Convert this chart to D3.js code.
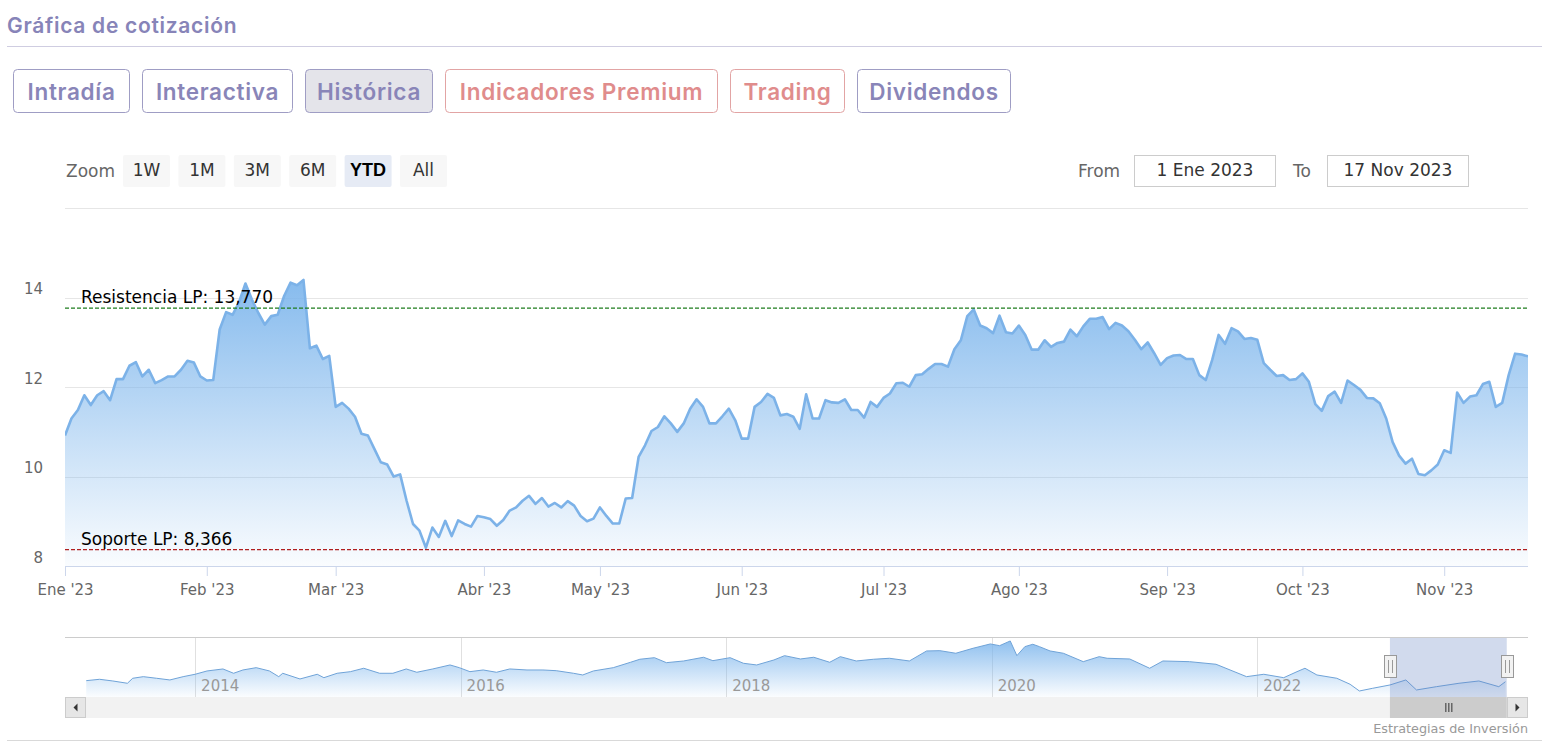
<!DOCTYPE html>
<html><head><meta charset="utf-8">
<script src="https://cdn.jsdelivr.net/npm/d3@7"></script>
<style>
body{margin:0;background:#fff;}
svg{display:block;}
</style></head><body>
<svg id="c" width="1546" height="755"></svg>
<script>
// ---------- DATA ----------
const monthLabels = ["Ene '23","Feb '23","Mar '23","Abr '23","May '23","Jun '23","Jul '23","Ago '23","Sep '23","Oct '23","Nov '23"];
const monthStartIndex = [0,22,42,65,83,105,127,148,171,192,214];
const prices = [
 10.92,11.30,11.49,11.82,11.60,11.82,11.91,11.71,12.18,12.18,
 12.48,12.56,12.24,12.39,12.09,12.16,12.24,12.24,12.39,12.59,
 12.55,12.24,12.15,12.16,13.29,13.68,13.62,13.90,14.32,13.96,
 13.66,13.40,13.59,13.62,14.04,14.34,14.28,14.40,12.87,12.93,
 12.63,12.70,11.56,11.65,11.52,11.34,10.96,10.92,10.62,10.32,
 10.27,10.00,10.05,9.46,8.94,8.79,8.41,8.86,8.65,9.01,
 8.67,9.02,8.94,8.88,9.12,9.09,9.05,8.90,9.03,9.24,
 9.31,9.46,9.57,9.39,9.52,9.33,9.41,9.31,9.45,9.35,
 9.12,9.00,9.06,9.31,9.12,8.95,8.95,9.51,9.52,10.44,
 10.70,11.02,11.11,11.35,11.19,11.00,11.19,11.52,11.73,11.56,
 11.19,11.19,11.35,11.52,11.26,10.85,10.85,11.56,11.67,11.85,
 11.76,11.37,11.40,11.34,11.07,11.84,11.30,11.30,11.71,11.66,
 11.65,11.73,11.49,11.49,11.32,11.67,11.56,11.76,11.86,12.09,
 12.10,12.01,12.27,12.29,12.41,12.52,12.52,12.46,12.85,13.05,
 13.59,13.74,13.38,13.32,13.21,13.60,13.23,13.20,13.38,13.17,
 12.84,12.84,13.05,12.90,12.99,13.02,13.29,13.14,13.36,13.53,
 13.53,13.57,13.30,13.44,13.38,13.25,13.06,12.85,13.00,12.76,
 12.50,12.65,12.71,12.72,12.63,12.63,12.27,12.16,12.61,13.17,
 12.97,13.32,13.25,13.08,13.10,13.06,12.54,12.39,12.25,12.27,
 12.16,12.18,12.31,12.12,11.62,11.47,11.80,11.90,11.65,12.15,
 12.05,11.94,11.76,11.75,11.64,11.30,10.77,10.47,10.29,10.40,
 10.06,10.03,10.14,10.27,10.59,10.53,11.88,11.65,11.79,11.82,
 12.07,12.12,11.56,11.65,12.27,12.75,12.73,12.69
];
const yTicks = [8,10,12,14,16];
const resistanceValue = 13.770;
const supportValue = 8.366;
const resistanceLabel = "Resistencia LP: 13,770";
const supportLabel = "Soporte LP: 8,366";

const navYears = [2013.18,2013.28,2013.38,2013.49,2013.53,2013.61,2013.71,2013.81,2013.91,2014.00,
 2014.09,2014.21,2014.29,2014.36,2014.46,2014.56,2014.63,2014.66,2014.79,2014.92,
 2014.97,2015.07,2015.17,2015.27,2015.39,2015.49,2015.59,2015.67,2015.79,2015.92,
 2015.99,2016.07,2016.17,2016.27,2016.37,2016.50,2016.62,2016.72,2016.85,2016.92,
 2017.00,2017.15,2017.28,2017.35,2017.46,2017.55,2017.68,2017.83,2017.90,2018.03,
 2018.13,2018.23,2018.36,2018.44,2018.56,2018.66,2018.78,2018.86,2018.98,2019.11,
 2019.23,2019.38,2019.51,2019.61,2019.73,2019.86,2019.99,2020.06,2020.14,2020.19,
 2020.25,2020.31,2020.36,2020.44,2020.54,2020.69,2020.81,2020.87,2021.04,2021.19,
 2021.29,2021.49,2021.69,2021.92,2022.05,2022.20,2022.30,2022.36,2022.45,2022.60,
 2022.70,2022.77,2022.87,2023.00,2023.12,2023.20,2023.35,2023.52,2023.67,2023.82,2023.87];
const navValues = [13.57,14.34,13.40,12.12,14.90,15.79,14.90,13.96,15.79,17.12,
 18.96,20.07,17.68,19.51,20.79,18.96,15.79,17.68,14.51,17.12,
 15.23,17.68,18.57,20.46,17.68,17.68,20.07,18.23,20.07,22.29,
 20.79,18.57,19.51,18.23,20.07,19.51,19.51,19.12,17.68,16.73,
 18.96,20.79,23.79,25.46,26.34,23.57,24.51,26.57,24.68,26.34,
 23.23,22.29,25.07,27.46,25.62,26.57,23.79,26.90,24.51,25.46,
 26.01,24.51,30.07,30.23,28.79,31.57,33.96,33.01,35.62,27.46,
 32.46,33.79,32.46,30.07,28.79,24.12,26.90,26.01,25.62,20.46,
 24.51,24.12,22.68,15.79,17.12,15.23,18.57,20.46,16.73,14.90,
 11.57,7.84,9.34,11.18,13.96,8.40,10.23,12.12,13.40,10.23,13.00];
const navYearTicks = [2014,2016,2018,2020,2022];
const navRangeFrom = 2023.00, navRangeTo = 2023.88;

const tabLabels = ["Intradía","Interactiva","Histórica","Indicadores Premium","Trading","Dividendos"];
const tabKinds  = ["plain","plain","active","premium","premium","plain"];
const zoomLabels = ["1W","1M","3M","6M","YTD","All"];
const zoomActive = "YTD";
const fromDate = "1 Ene 2023", toDate = "17 Nov 2023";
const titleText = "Gráfica de cotización";
const creditText = "Estrategias de Inversión";

// ---------- LAYOUT ----------
const tabBoxWidths = [116,150,127,272,114,153];

// ---------- DRAW ----------
const svg = d3.select("#c");
const uiFont = "DejaVu Sans, Verdana, sans-serif";
const headFont = "Inter, 'Open Sans', sans-serif";

const defs = svg.append("defs");
const g1 = defs.append("linearGradient").attr("id","gMain").attr("gradientUnits","userSpaceOnUse")
  .attr("x1",0).attr("x2",0).attr("y1",270).attr("y2",566);
g1.append("stop").attr("offset",0).attr("stop-color","#7cb5ec").attr("stop-opacity",0.95);
g1.append("stop").attr("offset",1).attr("stop-color","#7cb5ec").attr("stop-opacity",0.04);
const g2 = defs.append("linearGradient").attr("id","gNav").attr("gradientUnits","userSpaceOnUse")
  .attr("x1",0).attr("x2",0).attr("y1",641).attr("y2",697);
g2.append("stop").attr("offset",0).attr("stop-color","#7cb5ec").attr("stop-opacity",0.85);
g2.append("stop").attr("offset",1).attr("stop-color","#7cb5ec").attr("stop-opacity",0.03);
defs.append("clipPath").attr("id","clipMain").append("rect").attr("x",65).attr("y",200).attr("width",1463).attr("height",366);

// Header
svg.append("text").attr("x",7).attr("y",33).attr("font-family",headFont).attr("font-weight",600)
  .attr("font-size",21).attr("letter-spacing",0.7).attr("fill","#8784b8").text(titleText);
svg.append("line").attr("x1",7).attr("x2",1542).attr("y1",46.5).attr("y2",46.5).attr("stroke","#cfcde1");

// Tabs
let tx = 13;
tabLabels.forEach((lab,i)=>{
  const kind = tabKinds[i];
  const bw = tabBoxWidths[i];
  svg.append("rect").attr("x",tx+0.5).attr("y",69.5).attr("width",bw).attr("height",43).attr("rx",4)
    .attr("fill", kind==="active" ? "#e4e4ea" : "#fff")
    .attr("stroke", kind==="premium" ? "#e2a4a4" : "#9f9dc4");
  svg.append("text").attr("x",tx+0.5+bw/2).attr("y",100).attr("text-anchor","middle")
    .attr("font-family",headFont).attr("font-weight",600)
    .attr("font-size",22.5).attr("letter-spacing",0.7)
    .attr("fill", kind==="premium" ? "#e08c8c" : "#8985b8").text(lab);
  tx += bw + 13;
});

// Zoom row
svg.append("text").attr("x",66).attr("y",177).attr("font-family",uiFont).attr("font-size",17)
  .attr("fill","#666").text("Zoom");
zoomLabels.forEach((lab,i)=>{
  const bx = 123 + i*55.4;
  const act = lab===zoomActive;
  svg.append("rect").attr("x",bx).attr("y",155).attr("width",47).attr("height",32).attr("rx",2)
    .attr("fill", act ? "#e6ebf5" : "#f7f7f7");
  svg.append("text").attr("x",bx+23.5).attr("y",176).attr("text-anchor","middle")
    .attr("font-family", act ? "Arial, 'Liberation Sans', sans-serif" : uiFont)
    .attr("font-size", act ? 18 : 17).attr("font-weight", act ? "bold" : "normal")
    .attr("fill", act ? "#000" : "#333").text(lab);
});
svg.append("text").attr("x",1078).attr("y",177).attr("font-family",uiFont).attr("font-size",17)
  .attr("fill","#666").text("From");
svg.append("text").attr("x",1293).attr("y",177).attr("font-family",uiFont).attr("font-size",17)
  .attr("fill","#666").text("To");
[[1134,fromDate],[1327,toDate]].forEach(([bx,lab])=>{
  svg.append("rect").attr("x",bx+0.5).attr("y",155.5).attr("width",141).attr("height",31)
    .attr("fill","#fff").attr("stroke","#cccccc");
  svg.append("text").attr("x",bx+71).attr("y",176).attr("text-anchor","middle")
    .attr("font-family",uiFont).attr("font-size",17).attr("fill","#333").text(lab);
});

// Main chart scales
const x = d3.scaleLinear().domain([0, prices.length-1]).range([65,1528]);
const y = d3.scaleLinear().domain([8,16]).range([566,208.4]);

// Gridlines + y labels
yTicks.forEach(t=>{
  if (t>8) svg.append("line").attr("x1",65).attr("x2",1528).attr("y1",Math.round(y(t))+0.5).attr("y2",Math.round(y(t))+0.5)
    .attr("stroke","#e6e6e6");
  if (t<16) svg.append("text").attr("x",43).attr("y",y(t)-3.4).attr("text-anchor","end")
    .attr("font-family",uiFont).attr("font-size",15).attr("fill","#666").text(t);
});

// Area + line
const area = d3.area().x((d,i)=>x(i)).y0(y(8)).y1(d=>y(d));
const line = d3.line().x((d,i)=>x(i)).y(d=>y(d));
const plot = svg.append("g").attr("clip-path","url(#clipMain)");
plot.append("path").datum(prices).attr("d",area).attr("fill","url(#gMain)");
plot.append("path").datum(prices).attr("d",line).attr("fill","none").attr("stroke","#7cb2e8")
  .attr("stroke-width",2.6).attr("stroke-linejoin","round");

// X axis
const xAxis = d3.axisBottom(x).tickValues(monthStartIndex)
  .tickFormat(d=>monthLabels[monthStartIndex.indexOf(d)]).tickSize(10).tickPadding(8);
const ax = svg.append("g").attr("transform","translate(0,566)").call(xAxis);
ax.select(".domain").attr("stroke","#ccd6eb").attr("d","M65,0.5H1528");
ax.selectAll(".tick line").attr("stroke","#ccd6eb");
ax.selectAll(".tick text").attr("font-family",uiFont).attr("font-size",15).attr("fill","#666");

// Plot lines (support / resistance)
[[resistanceValue,"#1e7d1e",resistanceLabel],[supportValue,"#b01e1e",supportLabel]].forEach(([v,c,lab])=>{
  svg.append("line").attr("x1",65).attr("x2",1528).attr("y1",y(v)).attr("y2",y(v))
    .attr("stroke",c).attr("stroke-width",1.2).attr("stroke-dasharray","4,2");
  svg.append("text").attr("x",81).attr("y",y(v)-5).attr("font-family",uiFont).attr("font-size",17)
    .attr("fill","#000").text(lab);
});

// Navigator
const nx = d3.scaleLinear().domain([2013.02,2024.04]).range([65,1528]);
const ny = d3.scaleLinear().domain([4.5,35.6]).range([697,641]);
navYearTicks.forEach(t=>{
  svg.append("line").attr("x1",Math.round(nx(t))+0.5).attr("x2",Math.round(nx(t))+0.5).attr("y1",637).attr("y2",697)
    .attr("stroke","#e0e0e0");
});
const navData = navYears.map((yr,i)=>[yr,navValues[i]]);
svg.append("path").datum(navData).attr("d",d3.area().x(d=>nx(d[0])).y0(697).y1(d=>ny(d[1])))
  .attr("fill","url(#gNav)");
svg.append("path").datum(navData).attr("d",d3.line().x(d=>nx(d[0])).y(d=>ny(d[1])))
  .attr("fill","none").attr("stroke","#6fa3d8").attr("stroke-width",1);
navYearTicks.forEach(t=>{
  svg.append("text").attr("x",nx(t)+6).attr("y",691).attr("font-family",uiFont).attr("font-size",15)
    .attr("fill","#999").text(t);
});
svg.append("line").attr("x1",65).attr("x2",1528).attr("y1",637.5).attr("y2",637.5).attr("stroke","#cccccc");
const m0 = nx(navRangeFrom), m1 = nx(navRangeTo);
svg.append("rect").attr("x",m0).attr("y",638).attr("width",m1-m0).attr("height",59)
  .attr("fill","rgba(102,133,194,0.3)");
[m0,m1].forEach(hx=>{
  svg.append("rect").attr("x",Math.round(hx)-5.5).attr("y",655.5).attr("width",12).attr("height",22)
    .attr("fill","#f2f2f2").attr("stroke","#999");
  [-1.5,2.5].forEach(o=>svg.append("line").attr("x1",Math.round(hx)+o).attr("x2",Math.round(hx)+o)
    .attr("y1",660).attr("y2",673).attr("stroke","#999"));
});

// Scrollbar
svg.append("rect").attr("x",65).attr("y",697).attr("width",1463).attr("height",21).attr("fill","#f2f2f2");
svg.append("rect").attr("x",m0).attr("y",697).attr("width",m1-m0).attr("height",21).attr("fill","#cccccc");
[-3,0,3].forEach(o=>svg.append("line").attr("x1",(m0+m1)/2+o+0.5).attr("x2",(m0+m1)/2+o+0.5)
  .attr("y1",703).attr("y2",712).attr("stroke","#333"));
[[65,-1],[1507,1]].forEach(([bx,dir])=>{
  svg.append("rect").attr("x",bx+0.5).attr("y",697.5).attr("width",20).attr("height",20)
    .attr("fill","#e6e6e6").attr("stroke","#cccccc");
  const cx = bx+10.5, cy = 707.5;
  svg.append("path").attr("d", dir<0 ? `M${cx+2},${cy-4}L${cx-2},${cy}L${cx+2},${cy+4}Z`
                                     : `M${cx-2},${cy-4}L${cx+2},${cy}L${cx-2},${cy+4}Z`).attr("fill","#333");
});

// Credit + bottom rule
svg.append("text").attr("x",1528).attr("y",733).attr("text-anchor","end").attr("font-family",uiFont)
  .attr("font-size",12.8).attr("fill","#999").text(creditText);
svg.append("line").attr("x1",7).attr("x2",1542).attr("y1",740.5).attr("y2",740.5).attr("stroke","#d9d9d9");
</script>
</body></html>
